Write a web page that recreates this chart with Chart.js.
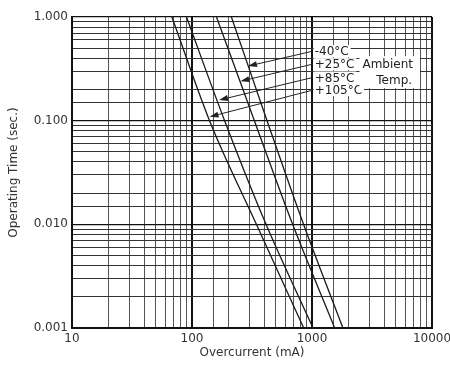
<!DOCTYPE html>
<html>
<head>
<meta charset="utf-8">
<script src="https://cdn.jsdelivr.net/npm/chart.js@4.4.1/dist/chart.umd.min.js"></script>
<style>
  html, body { margin: 0; padding: 0; background: #fff; }
</style>
</head>
<body>
<canvas id="chart" width="450" height="365"></canvas>
<script>
const timeLevels = [1, 0.1, 0.01, 0.001];
const currentMinus40 = [213, 422, 850, 1810];
const currentPlus25 = [160, 331, 690, 1545];
const currentPlus85 = [90, 187, 414, 1020];
const currentPlus105 = [68, 140, 344, 853];

// callouts
const tempLabels = ['-40°C', '+25°C', '+85°C', '+105°C'];
const labelCurrent = 1053;
const labelTimes = [0.468, 0.351, 0.261, 0.197];
const arrowTipCurrents = [293, 253, 168, 140];
const arrowTipTimes = [0.336, 0.240, 0.158, 0.109];
const ambientText = ['Ambient', 'Temp.'];
const ambientCurrents = [4275, 4840];
const ambientTimes = [0.351, 0.246];

const FONT = '"DejaVu Sans", sans-serif';

function isDecade(v) {
    const l = Math.log10(v);
    return Math.abs(l - Math.round(l)) < 1e-6;
}

function toPoints(xs) {
    return xs.map((v, i) => ({ x: v, y: timeLevels[i] }));
}

const calloutPlugin = {
    id: 'callouts',
    afterDatasetsDraw(chart) {
        const { ctx, scales: { x, y } } = chart;
        ctx.save();
        ctx.font = '12px ' + FONT;
        ctx.textBaseline = 'middle';
        ctx.textAlign = 'left';
        const tx = x.getPixelForValue(labelCurrent);

        tempLabels.forEach((t, i) => {
            const ty = y.getPixelForValue(labelTimes[i]);
            const w = ctx.measureText(t).width;
            ctx.fillStyle = '#fff';
            ctx.fillRect(tx - 1, ty - 6, w + 3, 12);
            ctx.fillStyle = '#222';
            ctx.fillText(t, tx, ty + 1);

            // arrow to the curve
            const sx = tx - 2, sy = ty;
            const ex = x.getPixelForValue(arrowTipCurrents[i]);
            const ey = y.getPixelForValue(arrowTipTimes[i]);
            const ang = Math.atan2(ey - sy, ex - sx);
            const len = 9, half = 3;
            const bx = ex - len * Math.cos(ang), by = ey - len * Math.sin(ang);
            ctx.strokeStyle = '#222';
            ctx.lineWidth = 1;
            ctx.beginPath();
            ctx.moveTo(sx, sy);
            ctx.lineTo(bx, by);
            ctx.stroke();
            ctx.fillStyle = '#222';
            ctx.beginPath();
            ctx.moveTo(ex, ey);
            ctx.lineTo(bx + half * Math.sin(ang), by - half * Math.cos(ang));
            ctx.lineTo(bx - half * Math.sin(ang), by + half * Math.cos(ang));
            ctx.closePath();
            ctx.fill();
        });

        // "Ambient Temp." block
        ctx.textAlign = 'center';
        const ax = ambientText.map((t, i) => x.getPixelForValue(ambientCurrents[i]));
        const ay = ambientText.map((t, i) => y.getPixelForValue(ambientTimes[i]));
        const wMax = Math.max(...ambientText.map(t => ctx.measureText(t).width));
        ctx.fillStyle = '#fff';
        ctx.fillRect(Math.min(...ax) - wMax / 2 - 3, ay[0] - 8, wMax + 10, ay[1] - ay[0] + 16);
        ctx.fillStyle = '#222';
        ambientText.forEach((t, i) => ctx.fillText(t, ax[i], ay[i] + 1));
        ctx.restore();
    }
};

const lineStyle = {
    borderColor: '#1a1a1a',
    borderWidth: 1.3,
    pointRadius: 0,
    fill: false,
    cubicInterpolationMode: 'monotone'
};

new Chart(document.getElementById('chart'), {
    type: 'line',
    data: {
        datasets: [
            { label: '-40°C', data: toPoints(currentMinus40), ...lineStyle },
            { label: '+25°C', data: toPoints(currentPlus25), ...lineStyle },
            { label: '+85°C', data: toPoints(currentPlus85), ...lineStyle },
            { label: '+105°C', data: toPoints(currentPlus105), ...lineStyle }
        ]
    },
    options: {
        responsive: false,
        animation: false,
        layout: { padding: { top: 17, right: 18, left: 0, bottom: 0 } },
        plugins: { legend: { display: false }, tooltip: { enabled: false } },
        scales: {
            x: {
                type: 'logarithmic',
                min: 10,
                max: 10000,
                afterFit: s => { s.height = 37; s.paddingLeft = 0; s.paddingRight = 0; },
                border: { display: true, color: '#111', width: 2 },
                grid: {
                    drawTicks: false,
                    color: c => (c.tick && isDecade(c.tick.value)) ? '#111' : '#555',
                    lineWidth: c => (c.tick && isDecade(c.tick.value)) ? 2 : 1
                },
                ticks: {
                    autoSkip: false,
                    maxRotation: 0,
                    padding: 4,
                    color: '#333',
                    font: { family: FONT, size: 12 },
                    callback: v => isDecade(v) ? String(Math.round(v)) : ''
                },
                title: {
                    display: true,
                    text: 'Overcurrent (mA)',
                    color: '#333',
                    font: { family: FONT, size: 12 },
                    padding: { top: 0, bottom: 5 }
                }
            },
            y: {
                type: 'logarithmic',
                min: 0.001,
                max: 1,
                afterFit: s => { s.width = 72; s.paddingTop = 0; s.paddingBottom = 0; },
                border: { display: true, color: '#111', width: 2 },
                grid: {
                    drawTicks: false,
                    color: c => (c.tick && isDecade(c.tick.value)) ? '#111' : '#333',
                    lineWidth: c => (c.tick && isDecade(c.tick.value)) ? 1.2 : 1
                },
                ticks: {
                    autoSkip: false,
                    padding: 4,
                    color: '#333',
                    font: { family: FONT, size: 12 },
                    callback: v => isDecade(v) ? v.toFixed(3) : ''
                },
                title: {
                    display: true,
                    text: 'Operating Time (sec.)',
                    color: '#333',
                    font: { family: FONT, size: 12 },
                    padding: { top: 7, bottom: 0 }
                }
            }
        }
    },
    plugins: [calloutPlugin]
});
</script>
</body>
</html>
